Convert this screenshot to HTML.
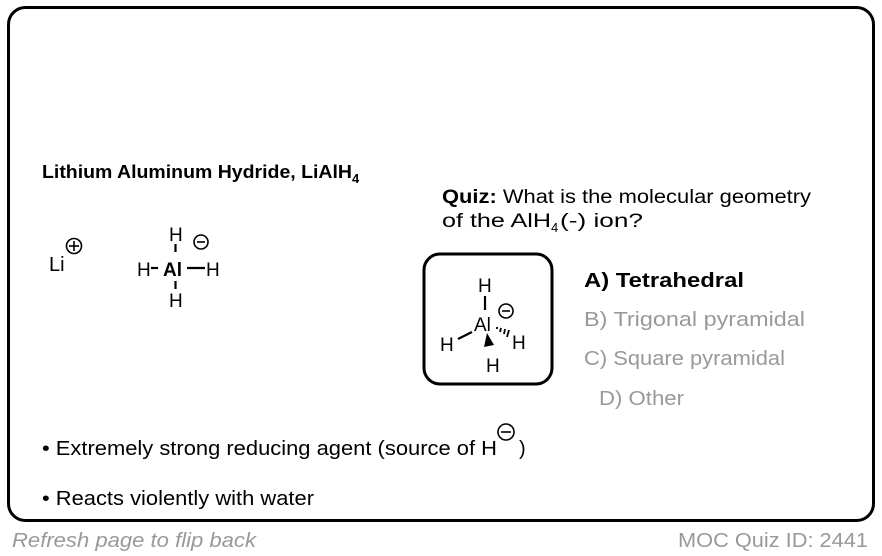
<!DOCTYPE html>
<html><head><meta charset="utf-8"><style>
body{margin:0;width:882px;height:556px;background:#fff;overflow:hidden;font-family:"Liberation Sans",Arial,sans-serif;}
svg{position:absolute;left:0;top:0}
</style></head><body>
<svg width="882" height="556" viewBox="0 0 882 556" font-family="Liberation Sans, Arial, sans-serif">
<rect x="8.5" y="7.5" width="865" height="513" rx="17" fill="none" stroke="#000" stroke-width="3"/>
<text x="42" y="178" font-size="18" font-weight="bold" textLength="310" lengthAdjust="spacingAndGlyphs">Lithium Aluminum Hydride, LiAlH</text>
<text x="352" y="183" font-size="13" font-weight="bold">4</text>
<!-- Li+ -->
<text x="49" y="271" font-size="20">Li</text>
<circle cx="74" cy="246" r="7.5" fill="none" stroke="#000" stroke-width="1.6"/>
<line x1="69" y1="246" x2="79" y2="246" stroke="#000" stroke-width="1.6"/>
<line x1="74" y1="241" x2="74" y2="251" stroke="#000" stroke-width="1.6"/>
<!-- AlH4 left -->
<text x="169" y="241" font-size="19">H</text>
<line x1="175.5" y1="244" x2="175.5" y2="252" stroke="#000" stroke-width="2.2"/>
<text x="137" y="276" font-size="19">H</text>
<line x1="151" y1="268" x2="158" y2="268" stroke="#000" stroke-width="2.2"/>
<text x="163" y="276" font-size="19" font-weight="bold">Al</text>
<line x1="187" y1="268" x2="205" y2="268" stroke="#000" stroke-width="2.2"/>
<text x="206" y="276" font-size="19">H</text>
<line x1="175.5" y1="281" x2="175.5" y2="289" stroke="#000" stroke-width="2.2"/>
<text x="169" y="307" font-size="19">H</text>
<circle cx="201" cy="242" r="7" fill="none" stroke="#000" stroke-width="1.6"/>
<line x1="197" y1="242" x2="205" y2="242" stroke="#000" stroke-width="1.6"/>
<!-- Quiz -->
<text x="442" y="203" font-size="19" textLength="369" lengthAdjust="spacingAndGlyphs"><tspan font-weight="bold">Quiz:</tspan> What is the molecular geometry</text>
<text x="442" y="227" font-size="19" textLength="109" lengthAdjust="spacingAndGlyphs">of the AlH</text>
<text x="551" y="232" font-size="13">4</text>
<text x="560" y="227" font-size="19" textLength="83" lengthAdjust="spacingAndGlyphs">(-) ion?</text>
<rect x="424" y="254" width="128" height="130" rx="16" fill="none" stroke="#000" stroke-width="3"/>
<text x="478" y="292" font-size="19">H</text>
<line x1="485" y1="296" x2="485" y2="310" stroke="#000" stroke-width="2.2"/>
<text x="474" y="331" font-size="19">Al</text>
<line x1="458" y1="339" x2="472" y2="332" stroke="#000" stroke-width="2.2"/>
<text x="440" y="351" font-size="19">H</text>
<g stroke="#000" stroke-width="1.8">
<line x1="497" y1="327" x2="497" y2="329"/><line x1="501" y1="328" x2="500" y2="332"/><line x1="505" y1="329" x2="504" y2="334"/><line x1="509" y1="330" x2="507" y2="337"/>
</g>
<text x="512" y="349" font-size="19">H</text>
<polygon points="487,333 484,347 494,345" fill="#000"/>
<text x="486" y="372" font-size="19">H</text>
<circle cx="506" cy="311" r="7" fill="none" stroke="#000" stroke-width="1.6"/>
<line x1="502" y1="311" x2="510" y2="311" stroke="#000" stroke-width="1.6"/>
<text x="584" y="287" font-size="20" font-weight="bold" textLength="160" lengthAdjust="spacingAndGlyphs">A) Tetrahedral</text>
<text x="584" y="326" font-size="20" fill="#999" textLength="221" lengthAdjust="spacingAndGlyphs">B) Trigonal pyramidal</text>
<text x="584" y="365" font-size="20" fill="#999" textLength="201" lengthAdjust="spacingAndGlyphs">C) Square pyramidal</text>
<text x="599" y="405" font-size="20" fill="#999" textLength="85" lengthAdjust="spacingAndGlyphs">D) Other</text>
<!-- bullets -->
<text x="42" y="455" font-size="20" textLength="455" lengthAdjust="spacingAndGlyphs">• Extremely strong reducing agent (source of H</text>
<circle cx="506" cy="432" r="8" fill="none" stroke="#000" stroke-width="1.6"/>
<line x1="501" y1="432" x2="511" y2="432" stroke="#000" stroke-width="1.6"/>
<text x="519" y="455" font-size="20">)</text>
<text x="42" y="505" font-size="20" textLength="272" lengthAdjust="spacingAndGlyphs">• Reacts violently with water</text>
<text x="12" y="547" font-size="20" font-style="italic" fill="#999" textLength="244" lengthAdjust="spacingAndGlyphs">Refresh page to flip back</text>
<text x="678" y="547" font-size="20" fill="#999" textLength="190" lengthAdjust="spacingAndGlyphs">MOC Quiz ID: 2441</text>
</svg>
</body></html>
